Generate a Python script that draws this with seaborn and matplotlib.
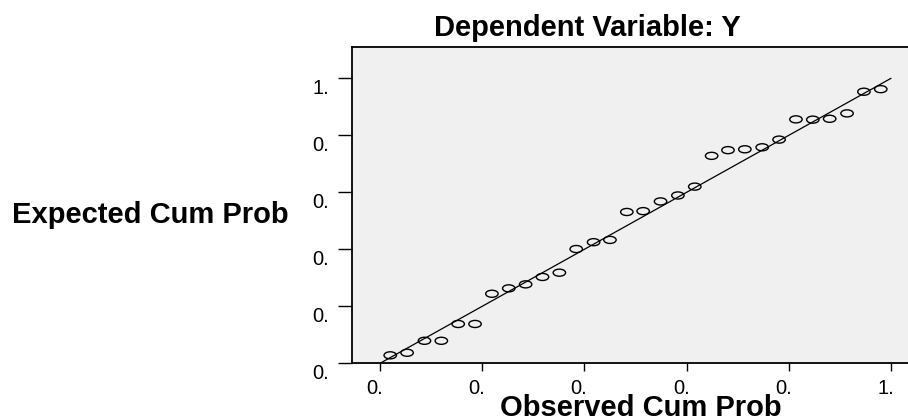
import matplotlib
matplotlib.use("Agg")
import matplotlib.pyplot as plt
import matplotlib.transforms as mtransforms
from matplotlib.markers import MarkerStyle
import seaborn as sns
import pandas as pd

observed_cum = [0.020, 0.053, 0.087, 0.120, 0.153, 0.186, 0.219, 0.252, 0.285, 0.318,
                0.351, 0.384, 0.418, 0.450, 0.483, 0.515, 0.549, 0.583, 0.616, 0.649,
                0.681, 0.714, 0.748, 0.781, 0.814, 0.847, 0.880, 0.914, 0.947, 0.980]
expected_cum = [0.028, 0.037, 0.079, 0.079, 0.138, 0.138, 0.244, 0.263, 0.277, 0.303,
                0.318, 0.401, 0.425, 0.433, 0.531, 0.534, 0.568, 0.589, 0.620, 0.728,
                0.748, 0.751, 0.758, 0.785, 0.856, 0.855, 0.858, 0.877, 0.953, 0.962]
ref_line = [0.0, 1.0]
tick_values = [0.0, 0.2, 0.4, 0.6, 0.8, 1.0]
tick_labels = ["0.", "0.", "0.", "0.", "0.", "1."]

sns.set_style("white")
plt.rcParams["font.family"] = ["Liberation Sans", "DejaVu Sans"]
plt.rcParams["text.color"] = "black"
plt.rcParams["axes.labelcolor"] = "black"

df = pd.DataFrame({"obs": observed_cum, "exp": expected_cum})

fig = plt.figure(figsize=(9.08, 4.19), dpi=100)
ax = fig.add_axes([351.7 / 908, 55.7 / 419, 1 - 351.7 / 908, 316.6 / 419])
ax.set_facecolor("#f0f0f0")

ax.plot(ref_line, ref_line, color="black", linewidth=0.9, zorder=2)

ellipse = MarkerStyle("o", transform=mtransforms.Affine2D().scale(1.0, 0.57))
sns.scatterplot(data=df, x="obs", y="exp", ax=ax, marker=ellipse, s=80,
                color="black", facecolor="none", edgecolor="black",
                linewidth=1.0, zorder=3)

ax.set_xlim(-0.0554, 1.0333)
ax.set_ylim(0.0, 1.111)

ax.set_xticks(tick_values)
ax.set_xticklabels(tick_labels, fontsize=14.5, color="black")
ax.set_yticks(tick_values)
ax.set_yticklabels(tick_labels, fontsize=14.5, color="black")

for side in ["left", "top", "bottom"]:
    ax.spines[side].set_visible(True)
    ax.spines[side].set_color("black")
    ax.spines[side].set_linewidth(1.3)
ax.spines["right"].set_visible(False)

ax.tick_params(axis="x", direction="out", length=6, width=1, colors="black",
               pad=16, bottom=True)
ax.tick_params(axis="y", direction="out", length=10, width=1, colors="black",
               pad=6.5, left=True)

# Etiquetas truncadas estilo SPSS: alineadas a la derecha del tick
x_off = mtransforms.ScaledTranslation(3 / 100, 0, fig.dpi_scale_trans)
for lab in ax.get_xticklabels():
    lab.set_ha("right")
    lab.set_va("baseline")
    lab.set_transform(lab.get_transform() + x_off)
y_off = mtransforms.ScaledTranslation(0, -15.5 / 100, fig.dpi_scale_trans)
for lab in ax.get_yticklabels():
    lab.set_va("baseline")
    lab.set_transform(lab.get_transform() + y_off)

ax.set_title("Dependent Variable: Y", fontsize=21, fontweight="bold",
             color="black", x=0.423, y=1.0338, pad=0)
ax.set_xlabel("Observed Cum Prob", fontsize=21, fontweight="bold",
              color="black", va="baseline")
ax.xaxis.set_label_coords(0.520, -0.165)
ax.set_ylabel("Expected Cum Prob", fontsize=21, fontweight="bold",
              color="black", rotation=0, ha="left", va="baseline")
ax.yaxis.set_label_coords(-0.6106, 0.443)

plt.savefig("out.png", dpi=100)
